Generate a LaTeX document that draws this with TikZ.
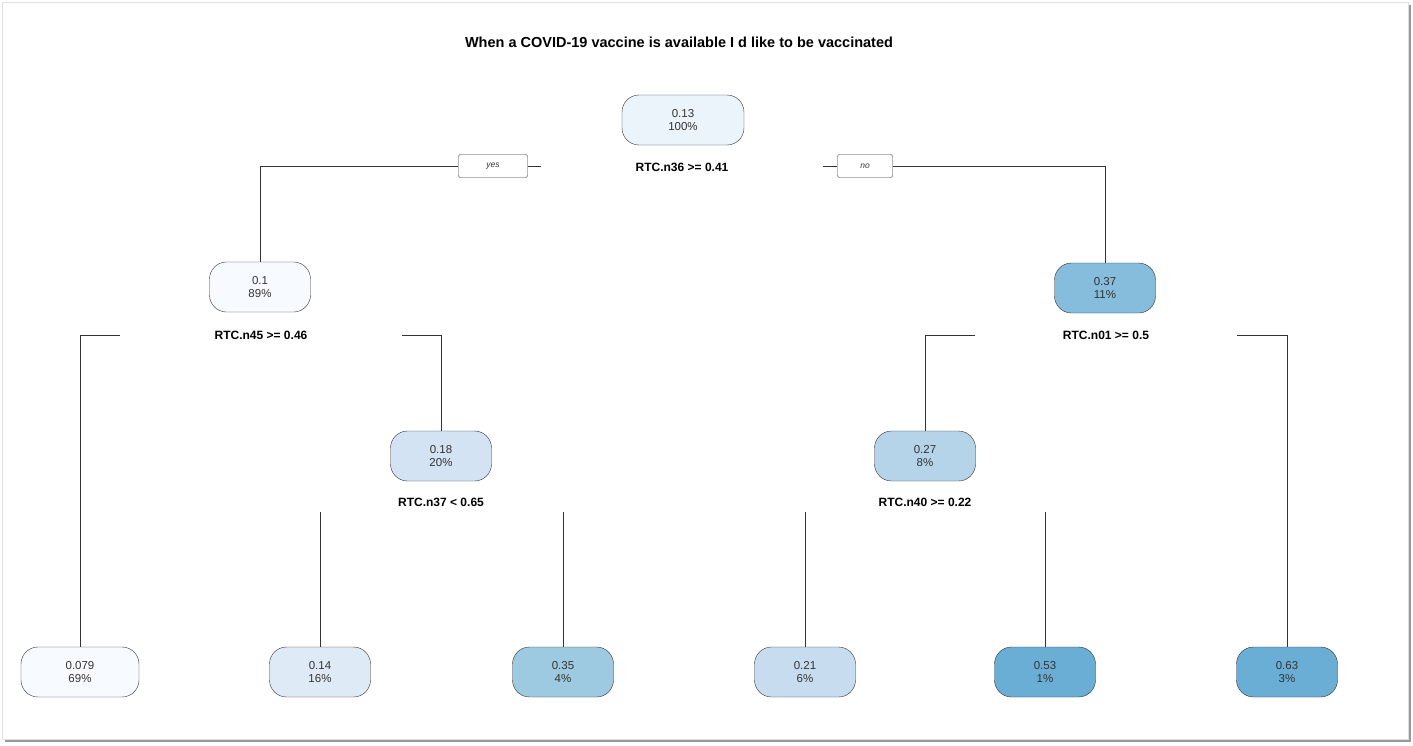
\documentclass[tikz,border=0pt]{standalone}
\usepackage{fontspec}
\setmainfont{Liberation Sans}
\usepackage{xcolor}
\usepackage{tikz}
\usetikzlibrary{positioning,calc}
\definecolor{inkgray}{HTML}{333333}
\definecolor{bluea}{HTML}{F7FBFF}
\definecolor{blueb}{HTML}{EBF3FB}
\definecolor{bluec}{HTML}{DEEBF7}
\definecolor{blued}{HTML}{D3E3F3}
\definecolor{bluee}{HTML}{C8DCF0}
\definecolor{bluef}{HTML}{B6D4E9}
\definecolor{blueg}{HTML}{9DCAE1}
\definecolor{blueh}{HTML}{86BCDC}
\definecolor{bluei}{HTML}{6AAED6}

\begin{document}
\begin{tikzpicture}[
  x=1pt, y=-1pt,
  every node/.style={font=\fontsize{11.5}{13.5}\selectfont, text=inkgray},
  box/.style={draw=inkgray,rounded corners=17pt,minimum width=101pt,minimum height=50pt,align=center,inner sep=0pt},
  split/.style={fill=white,font=\fontsize{12}{14}\selectfont\bfseries,text=black,inner sep=0pt,minimum height=20pt},
  tag/.style={draw=inkgray,fill=white,rounded corners=2pt,minimum width=69pt,minimum height=23pt,inner sep=0pt,font=\fontsize{8.5}{10}\selectfont\itshape},
  branch/.style={draw=inkgray,line width=1pt}
]
% page frame
\useasboundingbox (0,0) rectangle (1413,745);
\fill[white] (0,0) rectangle (1413,745);
\fill[black!40] (5,5) rectangle (1411,742);
\fill[white,draw=black!12] (2,2) rectangle (1408,739);

\node[font=\fontsize{14.5}{16}\selectfont\bfseries,text=black] (title) at (679,42) {When a COVID-19 vaccine is available I d like to be vaccinated};

% tree nodes
\node[box,fill=blueb,minimum width=122pt] (n1) at (683,120) {0.13\\100\%};
\node[box,fill=bluea] (n2) at (260,287) {0.1\\89\%};
\node[box,fill=blueh] (n3) at (1105,288) {0.37\\11\%};
\node[box,fill=blued] (n4) at (441,456) {0.18\\20\%};
\node[box,fill=bluef] (n5) at (925,456) {0.27\\8\%};

% leaves
\node[box,fill=bluea,minimum width=118pt] (l1) at (80,672) {0.079\\69\%};
\node[box,fill=bluec] (l2) at (320,672) {0.14\\16\%};
\node[box,fill=blueg] (l3) at (563,672) {0.35\\4\%};
\node[box,fill=bluee] (l4) at (805,672) {0.21\\6\%};
\node[box,fill=bluei] (l5) at (1045,672) {0.53\\1\%};
\node[box,fill=bluei] (l6) at (1287,672) {0.63\\3\%};

% split labels
\node[split,minimum width=282pt] (s1) at (682,167) {RTC.n36 >= 0.41};
\node[split,minimum width=282pt] (s2) at (261,335) {RTC.n45 >= 0.46};
\node[split,minimum width=262pt] (s3) at (1106,335) {RTC.n01 >= 0.5};
\node[split] (s4) at (441,502) {RTC.n37 < 0.65};
\node[split] (s5) at (925,502) {RTC.n40 >= 0.22};

\node[tag] (yes) at (493,166) {yes};
\node[tag,minimum width=55pt] (no) at (865,166) {no};

% branches
\draw[branch] (n2.north) |- (yes.west);
\draw[branch] (yes.east) -- (yes.east -| s1.west);
\draw[branch] (no.west -| s1.east) -- (no.west);
\draw[branch] (no.east) -| (n3.north);
\draw[branch] (s2.west) -| (l1.north);
\draw[branch] (s2.east) -| (n4.north);
\draw[branch] (s3.west) -| (n5.north);
\draw[branch] (s3.east) -| (l6.north);
\draw[branch] (l2.north |- s4.south) -- (l2.north);
\draw[branch] (l3.north |- s4.south) -- (l3.north);
\draw[branch] (l4.north |- s5.south) -- (l4.north);
\draw[branch] (l5.north |- s5.south) -- (l5.north);
\end{tikzpicture}
\end{document}
